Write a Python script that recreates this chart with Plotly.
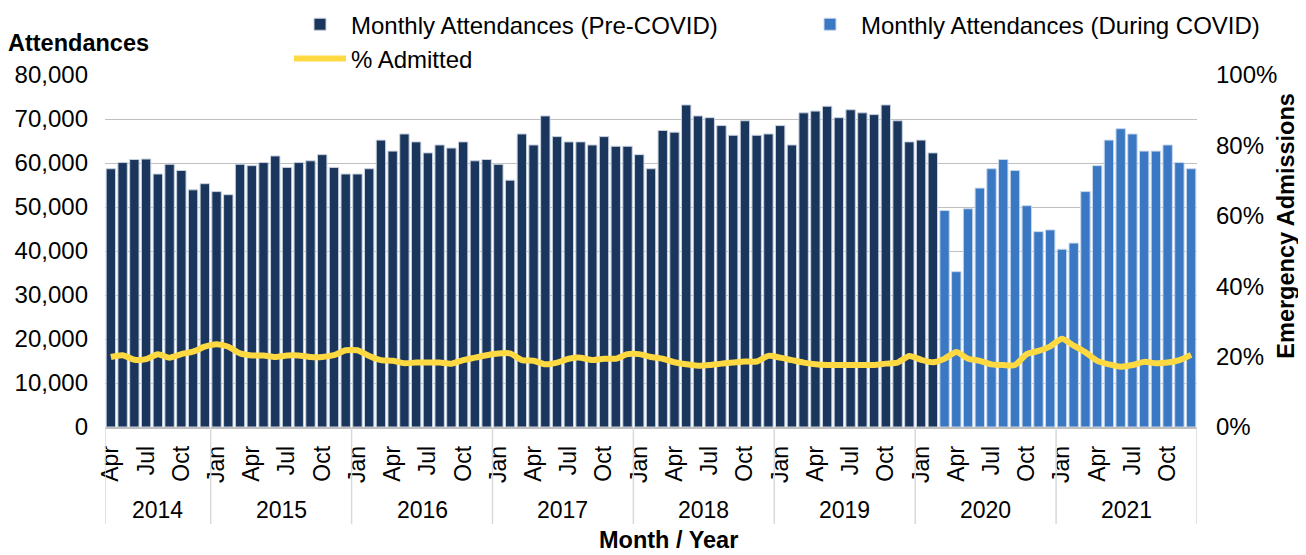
import plotly.graph_objects as go

month_names = ["Jan", "Feb", "Mar", "Apr", "May", "Jun", "Jul", "Aug", "Sep", "Oct", "Nov", "Dec"]
years = [2014, 2015, 2016, 2017, 2018, 2019, 2020, 2021]
first_month_index = 3  # data starts April 2014

pre_covid = [
    58700, 60100, 60800, 60900, 57500, 59700, 58300, 53900, 55300,
    53500, 52800, 59700, 59400, 60100, 61600, 59000, 60100, 60500, 61900, 59000, 57500,
    57500, 58700, 65200, 62700, 66600, 64800, 62300, 64100, 63400, 64800, 60500, 60800,
    59700, 56100, 66600, 64100, 70700, 66000, 64800, 64800, 64100, 66000, 63800, 63800,
    61900, 58700, 67400, 67000, 73200, 70700, 70300, 68500, 66300, 69600, 66300, 66600,
    68500, 64100, 71400, 71800, 72900, 70300, 72100, 71400, 71000, 73200, 69600, 64800,
    65200, 62300,
]
during_covid = [
    49200, 35300, 49600, 54300, 58700, 60800, 58300, 50300, 44400, 44800,
    40400, 41800, 53500, 59400, 65200, 67800, 66600, 62700, 62700, 64100, 60100, 58700,
]
pct_admitted = [
    19.9, 20.4, 19.1, 19.3, 20.7, 19.7, 20.7, 21.4, 22.8,
    23.5, 22.8, 20.9, 20.3, 20.3, 19.9, 20.3, 20.3, 19.9, 19.9, 20.4, 21.8,
    21.8, 20.2, 19.0, 18.8, 18.1, 18.3, 18.3, 18.3, 18.0, 19.0, 19.7, 20.4,
    20.9, 20.9, 19.0, 18.8, 17.8, 18.3, 19.4, 19.7, 19.0, 19.4, 19.4, 20.7,
    20.7, 19.9, 19.4, 18.4, 17.8, 17.4, 17.6, 18.0, 18.3, 18.6, 18.6, 20.2,
    19.7, 19.0, 18.3, 17.8, 17.6, 17.6, 17.6, 17.6, 17.6, 18.0, 18.3, 20.2,
    19.1, 18.4, 19.4, 21.3, 19.4, 18.8, 17.8, 17.6, 17.6, 20.7, 21.6, 22.9,
    25.1, 23.1, 21.2, 18.8, 17.8, 17.1, 17.6, 18.5, 18.1, 18.3, 19.0, 20.5,
]

# category labels
cat_months, cat_years = [], []
for y in years:
    start = first_month_index if y == years[0] else 0
    for m in month_names[start:]:
        cat_months.append(m)
        cat_years.append(y)
categories = [f"{m} {y}" for m, y in zip(cat_months, cat_years)]
n_pre = len(pre_covid)

FONT = "Liberation Sans, Arial, sans-serif"
FS_TICK = 24
FS_X = 23
FS_TITLE = 23.5

fig = go.Figure()
fig.add_trace(go.Bar(
    x=categories[:n_pre], y=pre_covid, name="Monthly Attendances (Pre-COVID)",
    marker=dict(color="#1A365D", line=dict(color="#C8D2DF", width=1)),
))
fig.add_trace(go.Bar(
    x=categories[n_pre:], y=during_covid, name="Monthly Attendances (During COVID)",
    marker=dict(color="#3B78C3", line=dict(color="#C8D8EC", width=1)),
))
fig.add_trace(go.Scatter(
    x=categories, y=[v / 100 for v in pct_admitted], name="% Admitted", yaxis="y2",
    mode="lines", line=dict(color="#FFD942", width=6, shape="spline", smoothing=0.6),
))

# year dividers and labels
shapes, annotations = [], []
bounds = [-0.5]
for i in range(1, len(cat_years)):
    if cat_years[i] != cat_years[i - 1]:
        bounds.append(i - 0.5)
bounds.append(len(cat_years) - 0.5)
for b in bounds:
    shapes.append(dict(type="line", xref="x", yref="paper", x0=b, x1=b, y0=0, y1=-0.2756,
                       line=dict(color="#D9D9D9", width=1.5)))
for y in years:
    idx = [i for i, yy in enumerate(cat_years) if yy == y]
    annotations.append(dict(x=(idx[0] + idx[-1]) / 2, y=-0.236, xref="x", yref="paper",
                            text=str(y), showarrow=False, yanchor="middle",
                            font=dict(family=FONT, size=FS_X, color="black")))

annotations.append(dict(x=-0.0905, y=1.091, xref="paper", yref="paper", text="<b>Attendances</b>",
                        showarrow=False, xanchor="left", yanchor="middle",
                        font=dict(family=FONT, size=FS_TITLE, color="black")))
annotations.append(dict(x=0.5156, y=-0.3635, xref="paper", yref="paper", text="<b>Month / Year</b>",
                        showarrow=False, xanchor="center", yanchor="bottom",
                        font=dict(family=FONT, size=FS_TITLE, color="black")))
annotations.append(dict(x=1.0812, y=0.571, xref="paper", yref="paper", text="<b>Emergency Admissions</b>",
                        showarrow=False, xanchor="center", yanchor="middle", textangle=-90,
                        font=dict(family=FONT, size=FS_TITLE, color="black")))

# the page shows the figure offset by the body's 8px margin
fig.update_layout(
    width=1298, height=547,
    margin=dict(l=97, r=109, t=67, b=128, autoexpand=False),
    paper_bgcolor="white", plot_bgcolor="white",
    font=dict(family=FONT, size=FS_TICK, color="black"),
    barmode="overlay", bargap=0.2,
    showlegend=True,
    legend=dict(orientation="h", x=0.1685, y=1.207, xanchor="left", yanchor="top",
                entrywidth=443, entrywidthmode="pixels", itemwidth=52,
                font=dict(family=FONT, size=FS_TICK, color="black"),
                bgcolor="rgba(0,0,0,0)", tracegroupgap=0, traceorder="normal"),
    xaxis=dict(type="category", categoryorder="array", categoryarray=categories,
               range=[-0.5, len(categories) - 0.5],
               tickmode="array", tickvals=categories[::3], ticktext=cat_months[::3],
               tickangle=-90, showgrid=False, showline=True, linecolor="#BFBFBF", linewidth=1.5,
               ticks="", ticklabelstandoff=8, tickfont=dict(family=FONT, size=FS_X, color="black")),
    yaxis=dict(range=[0, 80000], dtick=10000, tickformat=",", showgrid=True, gridcolor="#C0C0C0",
               gridwidth=1.2, zeroline=False, showline=False, ticks="", ticklabelstandoff=16,
               tickfont=dict(family=FONT, size=FS_TICK, color="black")),
    yaxis2=dict(range=[0, 1], dtick=0.2, tickformat=".0%", overlaying="y", side="right",
                showgrid=False, zeroline=False, showline=False, ticks="", ticklabelstandoff=18,
                tickfont=dict(family=FONT, size=FS_TICK, color="black")),
    shapes=shapes, annotations=annotations,
)

fig.write_html("out.html")
